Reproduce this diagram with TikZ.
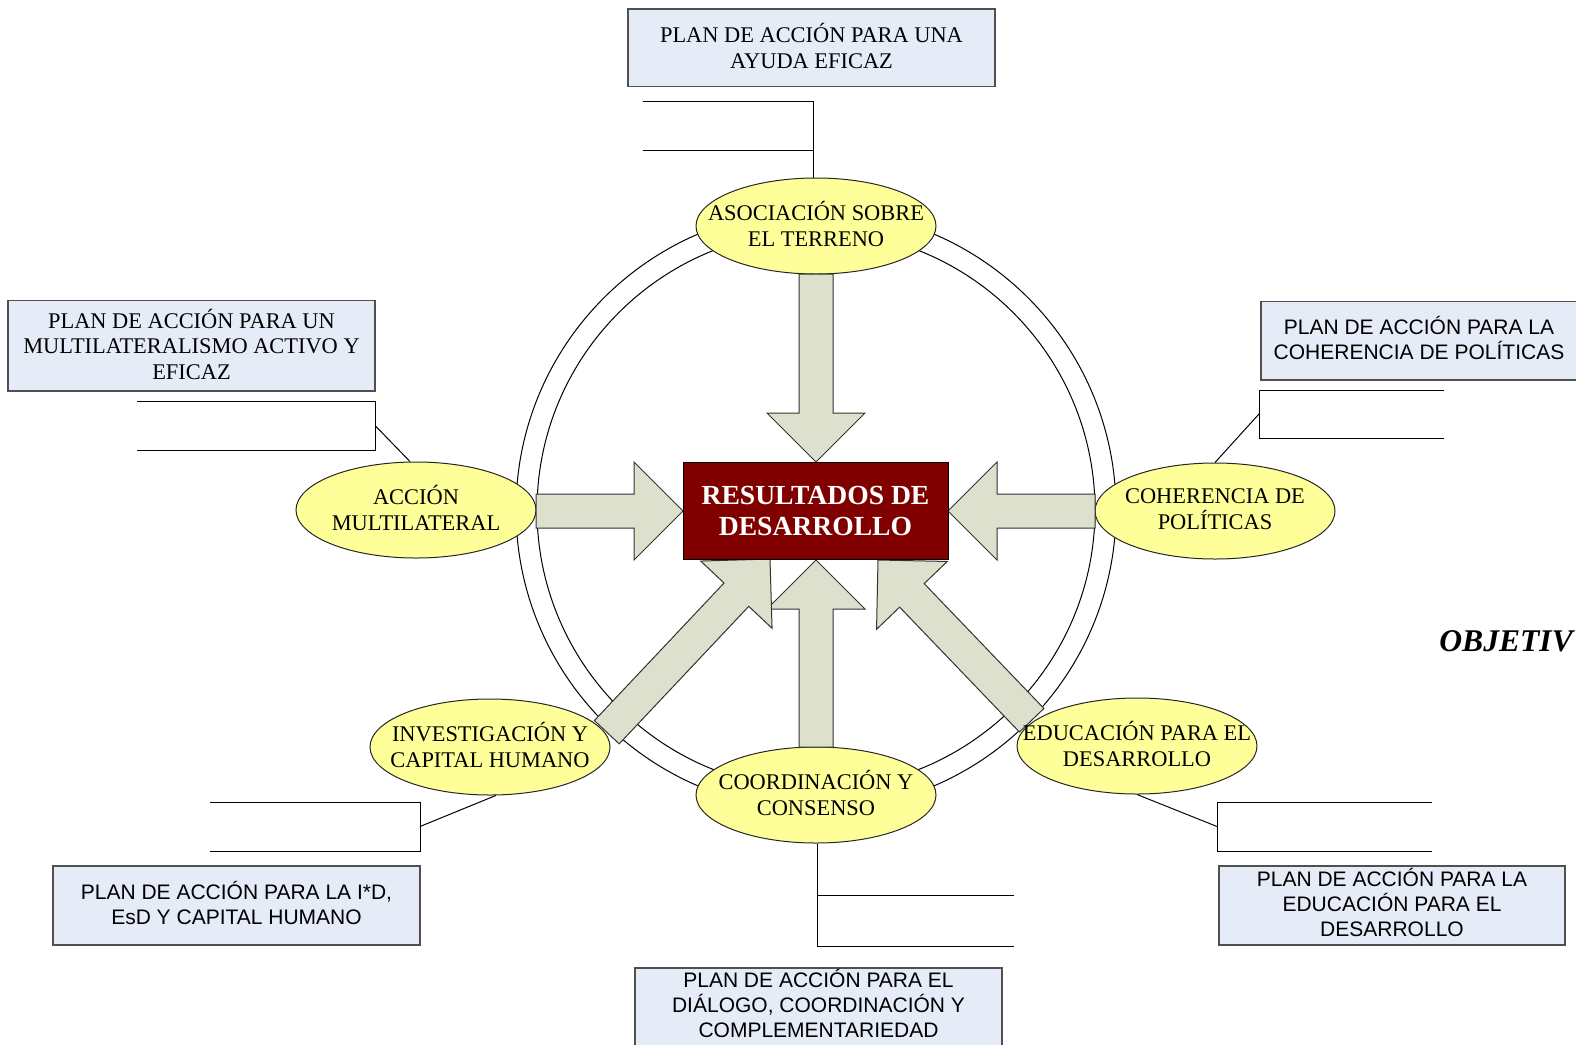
\documentclass[tikz,border=0pt]{standalone}
\usepackage{fontspec}
\setmainfont{Liberation Serif}
\setsansfont{Liberation Sans}
\usetikzlibrary{shapes.geometric}
\definecolor{elfill}{RGB}{255,255,153}
\definecolor{arfill}{RGB}{221,224,204}
\definecolor{bxfill}{RGB}{229,235,247}
\definecolor{resred}{RGB}{128,0,0}
\definecolor{bxline}{RGB}{80,80,80}
% tip x, tip y, direction angle, total length (pixel units)
\newcommand\blockarrow[4]{%
  \begin{scope}[shift={(#1,#2)},rotate=#3]
    \filldraw[bigarrow] (0,0) -- (-49,49) -- (-49,17) -- (-#4,17) -- (-#4,-17) -- (-49,-17) -- (-49,-49) -- cycle;
  \end{scope}}
\begin{document}
\begin{tikzpicture}[x=0.5pt,y=-0.5pt,
  oval/.style={ellipse, draw=black!85, line width=0.5pt, fill=elfill, minimum width=120pt, minimum height=48pt, inner sep=0pt},
  ovaltext/.style={align=center, font=\fontsize{11.2}{13}\selectfont, inner sep=0pt, yshift=1pt},
  planbox/.style={draw=bxline, line width=0.6pt, fill=bxfill, inner sep=0pt},
  serifplan/.style={align=center, font=\fontsize{11.2}{12.8}\selectfont},
  sansplan/.style={align=center, font=\sffamily\fontsize{10.5}{12.5}\selectfont},
  thinline/.style={draw=black, line width=0.5pt},
  bigarrow/.style={draw=black!80, line width=0.5pt, fill=arfill, line join=miter},
]
\useasboundingbox (0,0) rectangle (1576,1045);
\fill[white] (0,0) rectangle (1576,1045);

% rings
\draw[thinline] (816,510) circle [radius=150pt];
\draw[thinline] (816,510) circle [radius=139.5pt];

% ellipses (shapes)
\node[oval] (asoc)   at (816,226) {};
\node[oval] (accion) at (416,510) {};
\node[oval] (coher)  at (1215,511) {};
\node[oval] (invest) at (490,747) {};
\node[oval] (coord)  at (816,795) {};
\node[oval] (edu)    at (1137,746) {};

% block arrows
\blockarrow{816}{462}{-90}{188}
\blockarrow{683}{511}{0}{147}
\blockarrow{948}{511}{180}{147}
\blockarrow{816}{560}{90}{187}
\blockarrow{770}{559}{46.7}{238}
\blockarrow{878}{560}{133.8}{222}

% ellipse texts
\node[ovaltext] (asoct)   at (asoc)   {ASOCIACIÓN SOBRE\\EL TERRENO};
\node[ovaltext] (acciont) at (accion) {ACCIÓN\\MULTILATERAL};
\node[ovaltext] (cohert)  at (coher)  {COHERENCIA DE\\POLÍTICAS};
\node[ovaltext] (investt) at (invest) {INVESTIGACIÓN Y\\CAPITAL HUMANO};
\node[ovaltext] (coordt)  at (coord)  {COORDINACIÓN Y\\CONSENSO};
\node[ovaltext] (edut)    at (edu)    {EDUCACIÓN PARA EL\\DESARROLLO};

% central box
\node[draw=black, line width=0.5pt, fill=resred, text=white, minimum width=132.5pt, minimum height=48.5pt,
      inner sep=0pt, align=center, font=\fontsize{13.8}{15.5}\selectfont\bfseries] (res) at (815.5,510.5)
      {RESULTADOS DE\\DESARROLLO};

% plan boxes
\node[planbox, minimum width=183.5pt, minimum height=38.7pt] (ptop) at (811.5,47.7) {};
\node[serifplan] (ptopt) at (811.5,45.7) {PLAN DE ACCIÓN PARA UNA\\AYUDA EFICAZ};
\node[planbox, minimum width=183.5pt, minimum height=45.2pt] (pleft) at (191.5,345.7) {};
\node[serifplan] (pleftt) at (191.5,344.2) {PLAN DE ACCIÓN PARA UN\\MULTILATERALISMO ACTIVO Y\\EFICAZ};
\node[planbox, minimum width=183.5pt, minimum height=39.5pt] (pbl) at (236.5,905.5) {};
\node[sansplan] (pblt) at (236.5,903) {PLAN DE ACCIÓN PARA LA I*D,\\EsD Y CAPITAL HUMANO};
\node[planbox, minimum width=173pt, minimum height=39.5pt] (pbr) at (1392,905.5) {};
\node[sansplan] (pbrt) at (1392,902.5) {PLAN DE ACCIÓN PARA LA\\EDUCACIÓN PARA EL\\DESARROLLO};
% right box (open towards the edge)
\fill[bxfill] (1261,301.5) rectangle (1576,380);
\draw[bxline, line width=0.6pt] (1576,301.5) -- (1261,301.5) -- (1261,380) -- (1576,380);
\node[sansplan] (pright) at (1419,337.5) {PLAN DE ACCIÓN PARA LA\\COHERENCIA DE POLÍTICAS};
% bottom box (open towards the edge)
\fill[bxfill] (635,968) rectangle (1002,1045);
\draw[bxline, line width=0.6pt] (635,1045) -- (635,968) -- (1002,968) -- (1002,1045);
\node[sansplan] (pbottom) at (818.5,1003) {PLAN DE ACCIÓN PARA EL\\DIÁLOGO, COORDINACIÓN Y\\COMPLEMENTARIEDAD};

% callouts
\coordinate (ct1) at (643,101.5); \coordinate (ct2) at (813,101.5);
\coordinate (ct3) at (643,150);   \coordinate (ct4) at (813,150);
\draw[thinline] (ct1) -- (ct2) -- (ct2 |- asoc.north);
\draw[thinline] (ct3) -- (ct4);

\coordinate (cl1) at (137,401); \coordinate (cl2) at (375,401);
\coordinate (cl3) at (375,450); \coordinate (cl4) at (137,450);
\coordinate (clm) at (375,425.5);
\draw[thinline] (cl1) -- (cl2) -- (cl3) -- (cl4);
\draw[thinline] (clm) -- (accion.97);

\coordinate (cr1) at (1444,390); \coordinate (cr2) at (1259,390);
\coordinate (cr3) at (1259,438); \coordinate (cr4) at (1444,438);
\coordinate (crm) at (1259,414);
\draw[thinline] (cr1) -- (cr2) -- (cr3) -- (cr4);
\draw[thinline] (crm) -- (coher.north);

\coordinate (cbl1) at (210,802); \coordinate (cbl2) at (420,802);
\coordinate (cbl3) at (420,851); \coordinate (cbl4) at (210,851);
\coordinate (cblm) at (420,826.5);
\draw[thinline] (cbl1) -- (cbl2) -- (cbl3) -- (cbl4);
\draw[thinline] (cblm) -- (invest.-83);

\coordinate (cbr1) at (1432,802); \coordinate (cbr2) at (1217,802);
\coordinate (cbr3) at (1217,851); \coordinate (cbr4) at (1432,851);
\coordinate (cbrm) at (1217,826.5);
\draw[thinline] (cbr1) -- (cbr2) -- (cbr3) -- (cbr4);
\draw[thinline] (cbrm) -- (edu.south);

\coordinate (cb1) at (817,946); \coordinate (cb2) at (1014,946);
\coordinate (cb3) at (817,895); \coordinate (cb4) at (1014,895);
\draw[thinline] (cb1 |- coord.south) -- (cb1) -- (cb2);
\draw[thinline] (cb3) -- (cb4);

% title at the right edge (cut off in the source)
\node[anchor=base west, inner sep=0pt, font=\fontsize{15.8}{19}\selectfont\bfseries\itshape] (obj) at (1439,651) {OBJETIV};
\end{tikzpicture}
\end{document}
